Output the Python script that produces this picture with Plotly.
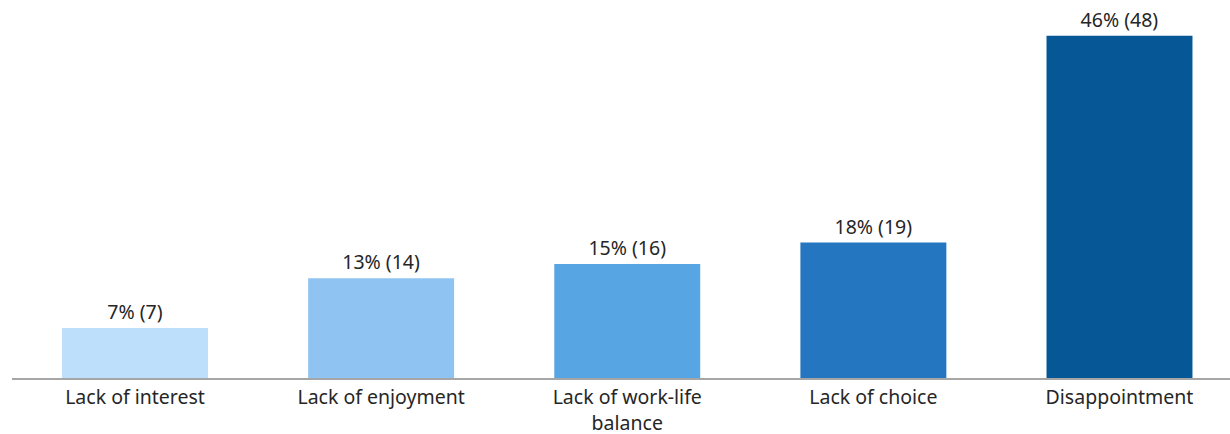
import plotly.graph_objects as go

categories = ["Lack of interest", "Lack of enjoyment", "Lack of work-life<br>balance", "Lack of choice", "Disappointment"]
counts = [7, 14, 16, 19, 48]
percents = [7, 13, 15, 18, 46]
colors = ["#BDDFFB", "#8FC4F2", "#58A5E4", "#2476C0", "#065796"]

labels = [f"{p}% ({c})" for p, c in zip(percents, counts)]

fig = go.Figure(go.Bar(
    x=categories, y=counts, marker=dict(color=colors, line=dict(width=0)),
    text=labels, textposition="outside", cliponaxis=False,
    textfont=dict(size=19.5, color="#262626", family="Noto Sans, Open Sans, sans-serif"),
))

fig.update_layout(
    width=1230, height=434,
    margin=dict(l=12, r=0, t=10, b=56),
    plot_bgcolor="white", paper_bgcolor="white",
    bargap=0.407, showlegend=False,
    font=dict(family="Noto Sans, Open Sans, sans-serif", size=19.5, color="#262626"),
    xaxis=dict(range=[-0.4998, 4.449], showline=True, linecolor="#A6A6A6", linewidth=1.5,
               ticks="outside", ticklen=1, tickcolor="rgba(0,0,0,0)", showgrid=False,
               automargin=False, tickfont=dict(size=19.5, color="#262626")),
    yaxis=dict(range=[0, 51.6], visible=False, showgrid=False, zeroline=False),
)

fig.write_html("out.html")
